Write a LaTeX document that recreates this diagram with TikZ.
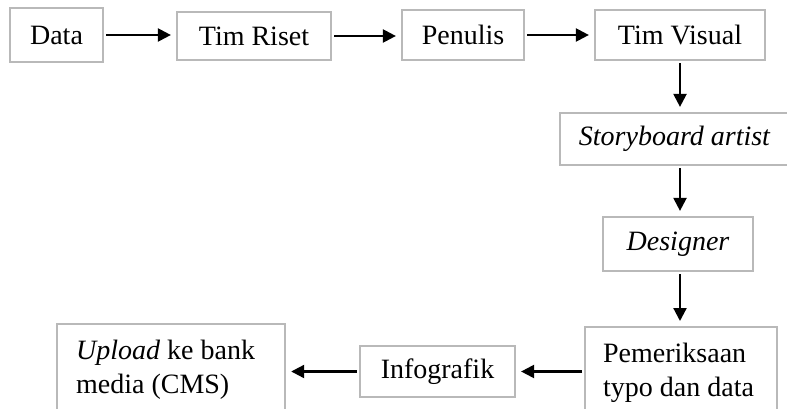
\documentclass[tikz,border=0pt]{standalone}
\usepackage{fontspec}
\setmainfont{Liberation Serif}
\usetikzlibrary{arrows.meta}
\definecolor{boxgray}{RGB}{185,185,185}
\begin{document}
\begin{tikzpicture}[x=1pt,y=-1pt,
  box/.style={draw=boxgray, line width=2.2pt, fill=white, inner sep=0pt,
    font=\fontsize{28}{34}\selectfont},
  tbox/.style={draw=boxgray, line width=2.2pt, fill=white, inner xsep=18pt, inner ysep=16pt,
    align=flush left, font=\fontsize{28}{34}\selectfont},
  arr/.style={line width=2.2pt, -{Triangle[length=13pt,width=13pt]}, shorten >=5pt, shorten <=2pt}]
\useasboundingbox (0,0) rectangle (787,409);
\clip (0,0) rectangle (787,409);
\node[box, minimum width=93pt, minimum height=54pt] (data) at (56.5,35) {Data};
\node[box, minimum width=154pt, minimum height=48pt] (riset) at (254,36) {Tim Riset};
\node[box, minimum width=122pt, minimum height=50pt] (pen) at (463,35) {Penulis};
\node[box, minimum width=170pt, minimum height=50pt] (vis) at (680,35) {Tim Visual};
\node[box, minimum width=229pt, minimum height=52pt] (sb) at (674.5,139) {\itshape Storyboard artist};
\node[box, minimum width=150pt, minimum height=54pt] (des) at (678,244) {\itshape Designer};
\node[tbox, anchor=north west, text width=156pt, inner xsep=18pt] (pe) at (584,326) {Pemeriksaan\\typo dan data};
\node[box, minimum width=155pt, minimum height=51pt] (inf) at (437.5,371.5) {Infografik};
\node[tbox, anchor=north west, text width=190pt, inner xsep=19pt] (up) at (56,323) {\textit{Upload} ke bank\\media (CMS)};
\draw[arr] (data.east) -- (data.east -| riset.west);
\draw[arr] (riset.east) -- (riset.east -| pen.west);
\draw[arr] (pen.east) -- (pen.east -| vis.west);
\draw[arr] (vis.south) -- (vis.south |- sb.north);
\draw[arr] (vis.south |- sb.south) -- (vis.south |- des.north);
\draw[arr] (vis.south |- des.south) -- (vis.south |- pe.north);
\draw[arr] (pe.west |- inf.east) -- (inf.east);
\draw[arr] (inf.west) -- (inf.west -| up.east);
\end{tikzpicture}
\end{document}
